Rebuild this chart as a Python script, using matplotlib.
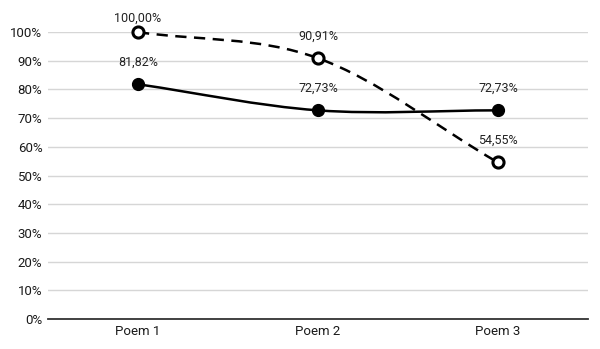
import matplotlib.pyplot as plt
from matplotlib.path import Path
from matplotlib.patches import PathPatch
from matplotlib.ticker import PercentFormatter

plt.rcParams["font.family"] = ["Roboto", "DejaVu Sans"]

categorias = ["Poem 1", "Poem 2", "Poem 3"]
serie_cheia = [81.82, 72.73, 72.73]
serie_vazada = [100.00, 90.91, 54.55]


def curva_suave(xs, ys):
    # catmull-rom convertido em bezier cúbica (linha suavizada estilo planilha)
    n = len(xs)
    tang = []
    for i in range(n):
        a = max(i - 1, 0)
        b = min(i + 1, n - 1)
        tang.append(((xs[b] - xs[a]) / (b - a), (ys[b] - ys[a]) / (b - a)))
    verts = [(xs[0], ys[0])]
    codes = [Path.MOVETO]
    for i in range(n - 1):
        verts += [
            (xs[i] + tang[i][0] / 3, ys[i] + tang[i][1] / 3),
            (xs[i + 1] - tang[i + 1][0] / 3, ys[i + 1] - tang[i + 1][1] / 3),
            (xs[i + 1], ys[i + 1]),
        ]
        codes += [Path.CURVE4] * 3
    return Path(verts, codes)


fig = plt.figure(figsize=(6, 3.49), dpi=100)
ax = fig.add_axes([0.08, 0.086, 0.9, 0.822])

x = list(range(len(categorias)))

ax.add_patch(PathPatch(curva_suave(x, serie_cheia), fill=False, color="black", lw=1.8, zorder=3))
ax.add_patch(PathPatch(curva_suave(x, serie_vazada), fill=False, color="black", lw=1.8,
                       linestyle=(0, (4.5, 3)), zorder=3))
ax.plot(x, serie_cheia, "o", ms=8.5, color="black", zorder=4, clip_on=False)
ax.plot(x, serie_vazada, "o", ms=8, mfc="white", mec="black", mew=2.2, zorder=4, clip_on=False)

# rótulos de valor acima dos pontos
for serie in (serie_cheia, serie_vazada):
    for xi, v in zip(x, serie):
        off = 10 if v >= 100 else 16
        ax.annotate(f"{v:.2f}%".replace(".", ","), (xi, v), xytext=(0, off), textcoords="offset points",
                    ha="center", va="center", fontsize=9, color="#222222", zorder=5)

ax.set_xlim(-0.5, 2.5)
ax.set_ylim(0, 100)
ax.set_yticks(range(0, 101, 10))
ax.yaxis.set_major_formatter(PercentFormatter(decimals=0))
ax.set_xticks(x)
ax.set_xticklabels(categorias)
ax.grid(axis="y", color="#d6d6d6", lw=1)
ax.set_axisbelow(True)
for s in ("top", "right", "left"):
    ax.spines[s].set_visible(False)
ax.spines["bottom"].set_color("#333333")
ax.spines["bottom"].set_linewidth(1.3)
ax.tick_params(length=0, labelsize=9.5, colors="#1a1a1a", pad=4)

fig.savefig("out.png", dpi=100, facecolor="white")
